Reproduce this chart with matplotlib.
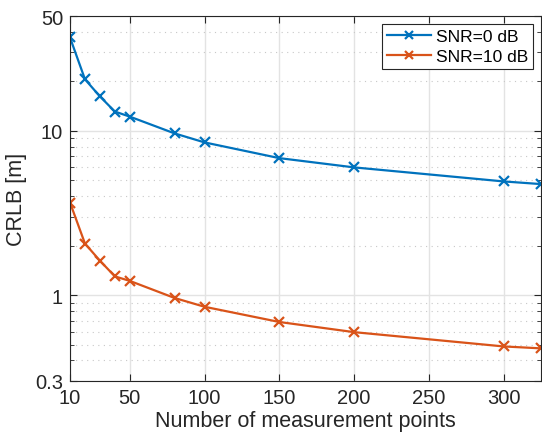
import matplotlib
matplotlib.use('Agg')
import matplotlib.pyplot as plt
from matplotlib.ticker import FixedLocator, LogLocator, NullFormatter

plt.rcParams['font.family'] = ['Liberation Sans', 'DejaVu Sans']

# data
n_points = [10, 20, 30, 40, 50, 80, 100, 150, 200, 300, 325]
crlb_0db = [37.0, 20.6, 16.2, 13.1, 12.2, 9.64, 8.50, 6.82, 5.99, 4.92, 4.74]
crlb_10db = [3.66, 2.06, 1.62, 1.30, 1.22, 0.96, 0.849, 0.686, 0.595, 0.487, 0.474]

x_ticks = [10, 50, 100, 150, 200, 250, 300]
y_ticks = [0.3, 1, 10, 50]
y_tick_labels = ['0.3', '1', '10', '50']

fig = plt.figure(figsize=(5.42, 4.39), dpi=100)
ax = fig.add_axes([70 / 542, 1 - 382 / 439, 471 / 542, 365 / 439])

ax.plot(n_points, crlb_0db, '-x', color='#0072BD', lw=1.6, ms=7, mew=1.6, label='SNR=0 dB')
ax.plot(n_points, crlb_10db, '-x', color='#D95319', lw=1.6, ms=7, mew=1.6, label='SNR=10 dB')

ax.set_yscale('log')
ax.set_xlim(10, 325)
ax.set_ylim(0.3, 50)
ax.set_xticks(x_ticks)
ax.set_xticklabels([str(t) for t in x_ticks])
ax.yaxis.set_major_locator(FixedLocator(y_ticks))
ax.set_yticklabels(y_tick_labels)
ax.yaxis.set_minor_locator(LogLocator(base=10, subs=range(2, 10)))
ax.yaxis.set_minor_formatter(NullFormatter())

ax.grid(True, which='major', color='#e3e3e3', lw=1)
ax.grid(True, which='minor', axis='y', color='#c8c8c8', lw=0.8, ls=(0, (1, 4)))
ax.set_axisbelow(True)

ax.tick_params(which='both', direction='in', top=True, right=True, colors='#262626', labelsize=14.5)
ax.tick_params(which='major', length=5, pad=5)
ax.tick_params(which='minor', length=3)
for s in ax.spines.values():
    s.set_color('#262626')
    s.set_linewidth(0.8)

ax.set_xlabel('Number of measurement points', fontsize=15.5, color='#262626', labelpad=2)
ax.set_ylabel('CRLB [m]', fontsize=15.5, color='#262626', labelpad=6)

leg = ax.legend(loc='upper right', fontsize=12.5, fancybox=False, framealpha=1,
                edgecolor='#262626', borderpad=0.3, handlelength=2.5, labelspacing=0.25,
                handletextpad=0.3, borderaxespad=0.45, markerscale=0.85)
leg.get_frame().set_linewidth(0.8)

fig.savefig('out.png', dpi=100, facecolor='white')
